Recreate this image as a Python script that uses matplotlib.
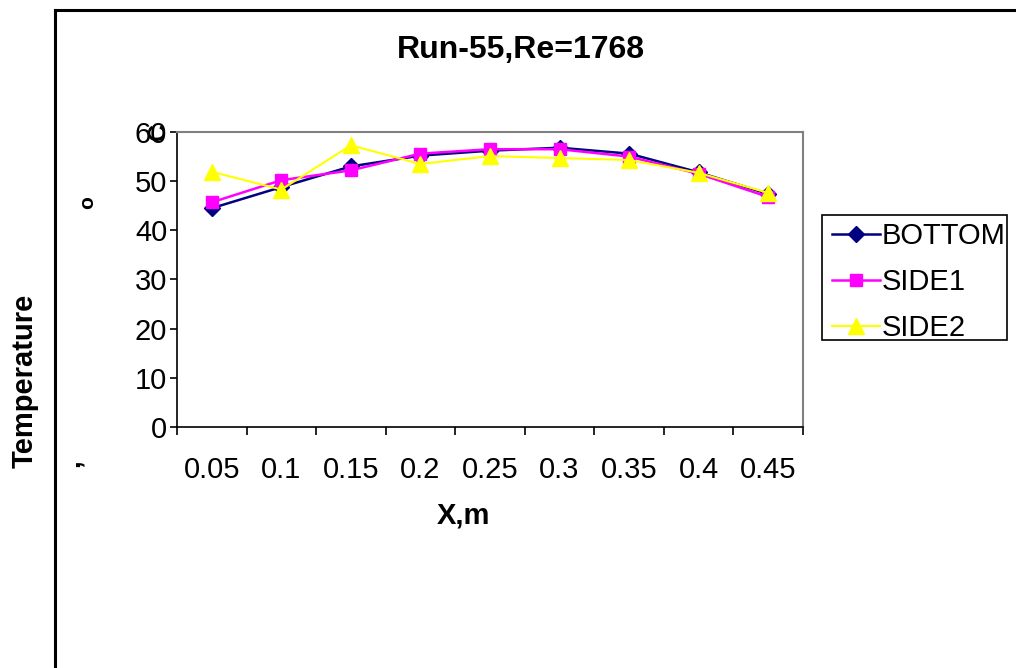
import matplotlib.pyplot as plt
import numpy as np
from matplotlib.lines import Line2D
from matplotlib.patches import Rectangle

plt.rcParams['font.family'] = ['Liberation Sans', 'DejaVu Sans']

x_labels = ['0.05', '0.1', '0.15', '0.2', '0.25', '0.3', '0.35', '0.4', '0.45']
bottom = [44.5, 48.8, 53.0, 55.2, 56.2, 56.8, 55.6, 51.8, 47.4]
side1 = [45.7, 50.2, 52.2, 55.6, 56.5, 56.5, 55.0, 51.5, 46.8]
side2 = [51.9, 48.3, 57.3, 53.5, 55.1, 54.7, 54.3, 51.7, 47.6]

W, H = 1016, 668
fig = plt.figure(figsize=(W / 100, H / 100), dpi=100)
ax = fig.add_axes([177 / W, 1 - 427 / H, (803 - 177) / W, (427 - 132) / H])

x = np.arange(len(x_labels))
ax.plot(x, bottom, color='#000080', lw=1.8, marker='D', ms=8,
        mfc='#000080', mec='#000080', label='BOTTOM')
ax.plot(x, side1, color='#FF00FF', lw=1.8, marker='s', ms=9,
        mfc='#FF00FF', mec='#FF00FF', label='SIDE1')
ax.plot(x, side2, color='#FFFF00', lw=1.5, marker='^', ms=11,
        mfc='#FFFF00', mec='#FFFF00', label='SIDE2')

ax.set_xlim(-0.5, len(x_labels) - 0.5)
ax.set_ylim(0, 60)
ax.set_yticks(range(0, 61, 10))
ax.set_yticklabels([str(v) for v in range(0, 61, 10)], fontsize=21)
ax.set_xticks(x)
ax.set_xticklabels(x_labels, fontsize=21)
ax.set_xticks(np.arange(-0.5, len(x_labels)), minor=True)
ax.tick_params(axis='x', which='major', length=0, pad=21)
ax.tick_params(axis='x', which='minor', length=6, width=1.2, direction='out')
ax.tick_params(axis='y', length=5, width=1.2, direction='out', pad=2)

for s in ['top', 'right']:
    ax.spines[s].set_color('#808080')
    ax.spines[s].set_linewidth(1.5)
for s in ['left', 'bottom']:
    ax.spines[s].set_color('black')
    ax.spines[s].set_linewidth(1.2)

fig.text(463 / W, 1 - 515 / H, 'X,m', fontsize=21, fontweight='bold',
         ha='center', va='center')
fig.text(521 / W, 1 - 50 / H, 'Run-55,Re=1768', fontsize=23, fontweight='bold',
         ha='center', va='center')
fig.text(25 / W, 1 - 381 / H, 'Temperature', fontsize=21, fontweight='bold',
         rotation=90, ha='center', va='center')
fig.text(88 / W, 1 - 203 / H, 'o', fontsize=15, fontweight='bold',
         rotation=90, ha='center', va='center')
fig.text(72 / W, 1 - 463 / H, ',', fontsize=20, fontweight='bold',
         rotation=90, ha='center', va='center')
fig.text(158 / W, 1 - 132 / H, 'C', fontsize=17, fontweight='bold',
         rotation=90, ha='center', va='center')

# legend box drawn by hand, entries without frame
fig.add_artist(Rectangle((822 / W, 1 - 340 / H), (1007 - 822) / W, 125 / H,
                         transform=fig.transFigure, fill=False,
                         edgecolor='black', lw=1.2))
leg = fig.legend(loc='upper left', bbox_to_anchor=(826 / W, 1 - 216 / H),
                 fontsize=21, frameon=False, handlelength=1.65,
                 handletextpad=0.05, borderpad=0.2, labelspacing=0.62,
                 borderaxespad=0)

fig.add_artist(Line2D([55 / W, 55 / W], [0, 1 - 10 / H], color='black', lw=2.2))
fig.add_artist(Line2D([55 / W, 1], [1 - 10 / H, 1 - 10 / H], color='black', lw=2.2))

fig.savefig('out.png', dpi=100)
